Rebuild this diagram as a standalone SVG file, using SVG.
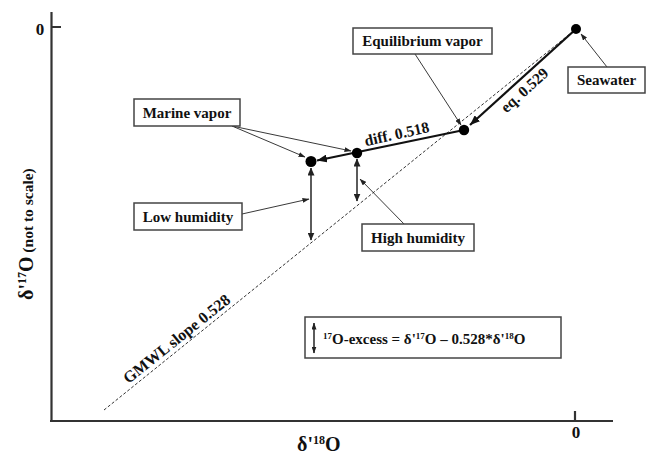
<svg xmlns="http://www.w3.org/2000/svg" width="659" height="467" viewBox="0 0 659 467">
<style>
text{font-family:"Liberation Serif","Times New Roman",serif;font-weight:bold;fill:#111;}
.lbl{font-size:15px;text-anchor:middle;}
.box{fill:#fff;stroke:#444;stroke-width:1.5;}
.axis{stroke:#333;stroke-width:2.2;fill:none;}
.thick{stroke:#111;stroke-width:2.2;fill:none;}
.thin{stroke:#222;stroke-width:0.9;fill:none;}
.dbl{stroke:#333;stroke-width:1.6;fill:none;}
.dash{stroke:#333;stroke-width:1;stroke-dasharray:3 2;fill:none;}
.dot{fill:#000;}
</style>
<defs>
<marker id="ah" markerUnits="userSpaceOnUse" markerWidth="11" markerHeight="8" refX="10" refY="4" orient="auto-start-reverse"><path d="M0,0 L10,4 L0,8 z" fill="#111"/></marker>
<marker id="as" markerUnits="userSpaceOnUse" markerWidth="7" markerHeight="5" refX="6.5" refY="2.5" orient="auto-start-reverse"><path d="M0,0 L7,2.5 L0,5 z" fill="#222"/></marker>
<marker id="av" markerUnits="userSpaceOnUse" markerWidth="8" markerHeight="7" refX="7.5" refY="3.5" orient="auto-start-reverse"><path d="M0,0 L8,3.5 L0,7 z" fill="#222"/></marker>
</defs>
<rect width="659" height="467" fill="#fff"/>
<g id="axes">
<path class="axis" d="M51.5,12 V421 M50,421 H613 M51.5,27 H61 M575,411 V421"/>
<text x="40" y="35" style="font-size:17px;text-anchor:middle">0</text>
<text x="576" y="438" style="font-size:17px;text-anchor:middle">0</text>
<text x="297" y="451" style="font-size:20px">δ'<tspan dy="-7" style="font-size:12px">18</tspan><tspan dy="7">O</tspan></text>
<text transform="translate(33,300) rotate(-90)" style="font-size:20px">δ'<tspan dy="-7" style="font-size:12px">17</tspan><tspan dy="7">O</tspan><tspan style="font-size:15.5px"> (not to scale)</tspan></text>
</g>
<g id="connectors">
<line class="dash" x1="104" y1="410" x2="576" y2="29"/>
<line class="thick" x1="576" y1="29" x2="470" y2="125" marker-end="url(#ah)"/>
<line class="thick" x1="464" y1="130" x2="317" y2="160.5" marker-end="url(#ah)"/>
<line class="dbl" x1="311" y1="168" x2="311" y2="240" marker-start="url(#av)" marker-end="url(#av)"/>
<line class="dbl" x1="357" y1="159" x2="357" y2="201" marker-start="url(#av)" marker-end="url(#av)"/>
<line class="thin" x1="232" y1="126" x2="305" y2="157" marker-end="url(#as)"/>
<line class="thin" x1="232" y1="126" x2="351" y2="151" marker-end="url(#as)"/>
<line class="thin" x1="242" y1="214" x2="309" y2="199" marker-end="url(#as)"/>
<line class="thin" x1="405" y1="225" x2="360" y2="179" marker-end="url(#as)"/>
<line class="thin" x1="415" y1="54" x2="461" y2="125" marker-end="url(#as)"/>
<line class="thin" x1="607" y1="67" x2="581" y2="34" marker-end="url(#as)"/>
<text transform="translate(528,94) rotate(-42)" class="lbl" style="font-size:15.5px">eq. 0.529</text>
<text transform="translate(398,139) rotate(-12.5)" class="lbl" style="font-size:15.5px">diff. 0.518</text>
<text transform="translate(180,343) rotate(-38.8)" class="lbl" style="font-size:16px">GMWL slope 0.528</text>
</g>
<g id="seawater-dot"><circle class="dot" cx="576" cy="29" r="5"/></g>
<g id="eqvapor-dot"><circle class="dot" cx="464" cy="130" r="5.2"/></g>
<g id="high-dot"><circle class="dot" cx="357" cy="153" r="5.2"/></g>
<g id="low-dot"><circle class="dot" cx="311" cy="161.5" r="5.5"/></g>
<g id="marine-vapor"><rect class="box" x="134" y="99" width="106" height="27"/><text class="lbl" x="187" y="117.5">Marine vapor</text></g>
<g id="low-humidity"><rect class="box" x="134" y="203" width="108" height="27"/><text class="lbl" x="188" y="221.5">Low humidity</text></g>
<g id="equilibrium-vapor"><rect class="box" x="353" y="28" width="139" height="26"/><text class="lbl" x="422.5" y="46">Equilibrium vapor</text></g>
<g id="seawater"><rect class="box" x="568" y="67" width="77" height="26"/><text class="lbl" x="606.5" y="85">Seawater</text></g>
<g id="high-humidity"><rect class="box" x="362" y="224" width="112" height="27"/><text class="lbl" x="418" y="242.5">High humidity</text></g>
<g id="formula">
<rect class="box" x="305" y="317" width="256" height="41"/>
<line class="dbl" x1="314" y1="323" x2="314" y2="353" stroke-width="1.3" marker-start="url(#as)" marker-end="url(#as)"/>
<text x="323" y="344" style="font-size:15px"><tspan dy="-5" style="font-size:9px">17</tspan><tspan dy="5">O-excess = δ'</tspan><tspan dy="-5" style="font-size:9px">17</tspan><tspan dy="5">O – 0.528*δ'</tspan><tspan dy="-5" style="font-size:9px">18</tspan><tspan dy="5">O</tspan></text>
</g>
</svg>
